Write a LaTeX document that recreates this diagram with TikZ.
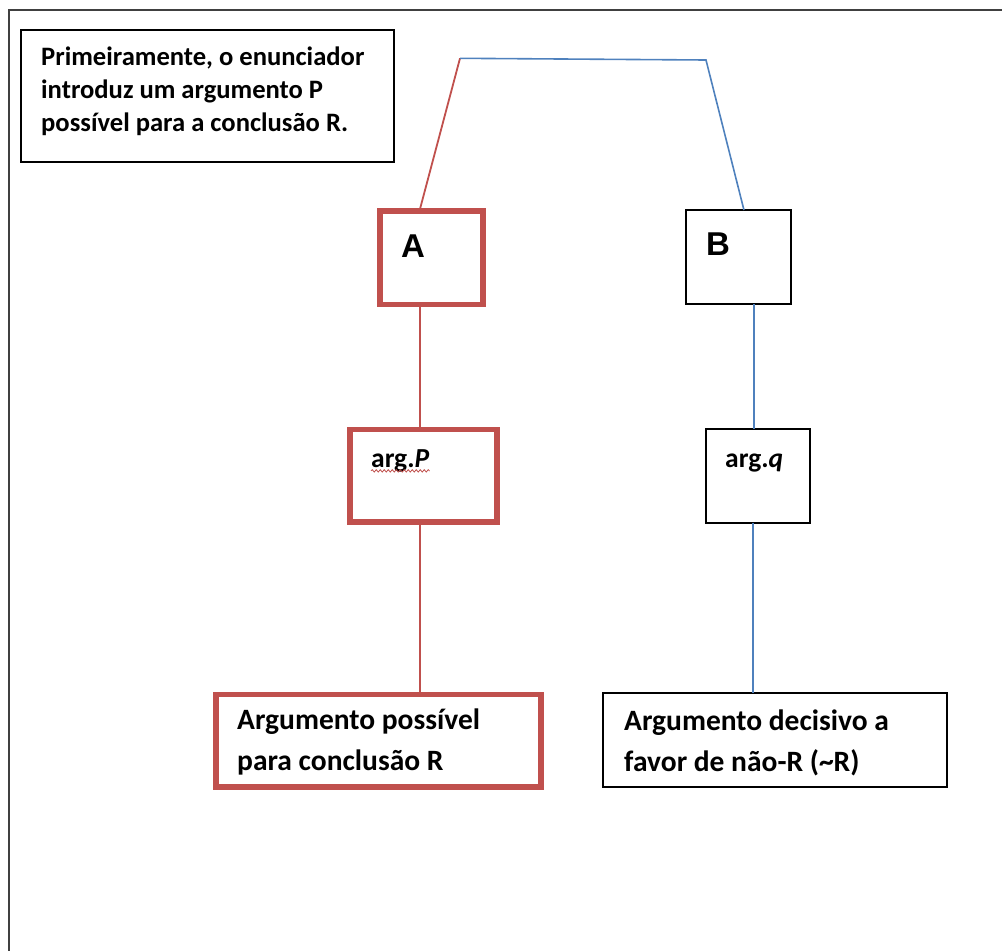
\documentclass[tikz,border=0pt]{standalone}
\usepackage{fontspec}
\setmainfont{Carlito}
\newfontfamily\letterfont{Liberation Sans}
\usetikzlibrary{decorations.pathmorphing}
\definecolor{ored}{HTML}{C0504D}
\definecolor{oblue}{HTML}{4F81BD}
\definecolor{framegray}{HTML}{404040}
\begin{document}
\begin{tikzpicture}[x=1pt,y=-1pt,
  redbox/.style={draw=ored, line width=5.5pt, inner sep=0pt, outer sep=0pt, anchor=north west},
  blackbox/.style={draw=black, line width=1.7pt, inner sep=0pt, outer sep=0pt, anchor=north west},
  redline/.style={draw=ored, line width=1.8pt},
  blueline/.style={draw=oblue, line width=1.6pt},
  txt/.style={inner sep=0pt, anchor=base west, align=left, font=\bfseries},
  bigletter/.style={inner sep=0pt, anchor=base west, font=\letterfont\bfseries\fontsize{33}{38}\selectfont},
  argtxt/.style={inner sep=0pt, anchor=base west, font=\bfseries\fontsize{27.5}{32}\selectfont}]
\useasboundingbox (0,0) rectangle (1002,951);
% outer frame (cut by the page edge)
\draw[framegray, line width=2pt] (9,960) -- (9,9.5) -- (1010,9.5);

% boxes
\node[blackbox, minimum width=373pt, minimum height=132pt] (intro) at (20.7,30) {};
\node[redbox, minimum width=103pt, minimum height=93.5pt] (A) at (380,211) {};
\node[blackbox, minimum width=104.7pt, minimum height=94.3pt] (B) at (686,210) {};
\node[redbox, minimum width=147pt, minimum height=92.5pt] (argP) at (350,429.5) {};
\node[blackbox, minimum width=104pt, minimum height=93.7pt] (argq) at (706,429) {};
\node[redbox, minimum width=325pt, minimum height=92.5pt] (BL) at (216,694.5) {};
\node[blackbox, minimum width=344.6pt, minimum height=94pt] (BR) at (602.7,693.3) {};

% texts (base anchor = baseline of the last line)
\node[txt, font=\bfseries\fontsize{26.6}{33}\selectfont] (introtext) at (41,131)
  {Primeiramente, o enunciador\\introduz um argumento P\\possível para a conclusão R.};
\node[bigletter] (Atext) at (401,257) {A};
\node[bigletter] (Btext) at (706,255) {B};
\node[argtxt] (argPtext) at (371,467) {arg.\textit{P}};
\node[argtxt] (argqtext) at (725,467) {arg.\textit{q}};
\node[txt, font=\bfseries\fontsize{29.5}{41}\selectfont] (BLtext) at (237,770)
  {Argumento possível\\para conclusão R};
\node[txt, font=\bfseries\fontsize{29.5}{41}\selectfont] (BRtext) at (624,771)
  {Argumento decisivo a\\favor de não-R (\textasciitilde R)};

% spell-check wavy underline
\draw[ored, line width=0.8pt, decorate, decoration={snake, amplitude=1.2pt, segment length=4pt}]
  ([yshift=1pt]argPtext.south west) -- ([yshift=1pt]argPtext.south east);

% connectors
\coordinate (tl) at (460,58.3);
\coordinate (tr) at (706,60);
\coordinate (xr) at (420,0);
\coordinate (xb) at (754,0);
\coordinate (xb2) at (753,0);
\draw[redline] ([xshift=-11.5pt,yshift=2pt]A.north) -- (tl);
\draw[blueline] (tl) -- (tr) -- ([xshift=5.6pt]B.north);
\draw[redline] (A.south -| xr) -- (argP.north -| xr);
\draw[redline] (argP.south -| xr) -- (BL.north -| xr);
\draw[blueline] (B.south -| xb) -- (argq.north -| xb);
\draw[blueline] (argq.south -| xb2) -- (BR.north -| xb2);
\end{tikzpicture}
\end{document}
